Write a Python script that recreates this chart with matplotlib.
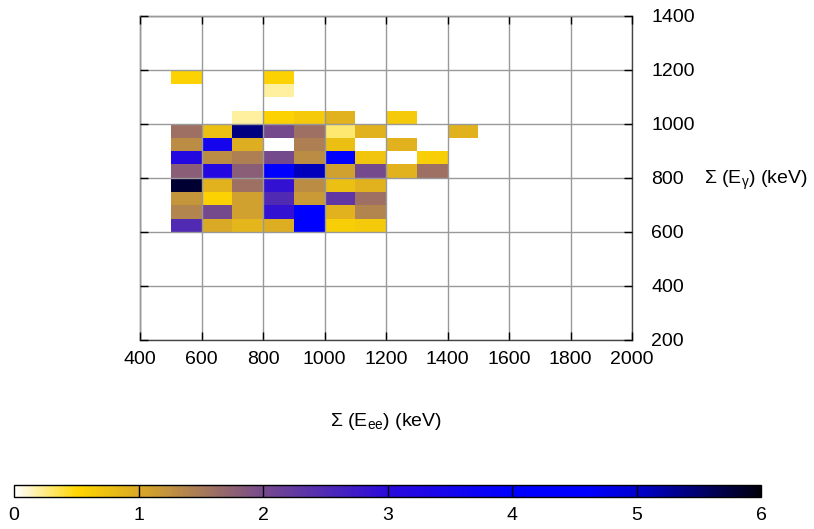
"""Heatmap of sum(E_ee) vs sum(E_gamma) counts, with horizontal colour bar."""
import matplotlib
matplotlib.use("Agg")
import matplotlib.pyplot as plt
import numpy as np
from matplotlib.colors import LinearSegmentedColormap, Normalize
from matplotlib.colorbar import ColorbarBase

plt.rcParams["font.family"] = ["Liberation Sans", "DejaVu Sans"]
plt.rcParams["mathtext.fontset"] = "custom"
plt.rcParams["mathtext.rm"] = "Liberation Sans"
plt.rcParams["mathtext.it"] = "Liberation Sans:italic"

# bin edges (keV)
x_edges = np.arange(500, 1600, 100)      # 500 .. 1500, 10 columns
y_edges = np.arange(600, 1250, 50)       # 600 .. 1200, 12 rows

# counts per cell, rows from y=600 (bottom) to y=1200 (top),
# columns from x=500 to x=1500
counts = [
    [2.5, 1.0, 0.85, 0.95, 4.3, 0.6, 0.65, 0.0, 0.0, 0.0],   # 600-650
    [1.4, 2.0, 1.1, 2.9, 4.3, 0.9, 1.4, 0.0, 0.0, 0.0],      # 650-700
    [1.2, 0.55, 1.1, 2.5, 1.15, 2.3, 1.6, 0.0, 0.0, 0.0],    # 700-750
    [5.8, 0.9, 1.6, 2.9, 1.3, 0.75, 0.9, 0.0, 0.0, 0.0],     # 750-800
    [1.8, 3.2, 1.8, 4.3, 5.1, 1.1, 2.0, 0.9, 1.6, 0.0],      # 800-850
    [3.2, 1.3, 1.45, 2.0, 1.3, 4.2, 0.7, 0.0, 0.6, 0.0],     # 850-900
    [1.3, 3.5, 0.95, 0.0, 1.45, 0.75, 0.0, 0.9, 0.0, 0.0],   # 900-950
    [1.6, 0.75, 5.4, 2.0, 1.6, 0.3, 0.9, 0.0, 0.0, 0.9],     # 950-1000
    [0.0, 0.0, 0.2, 0.55, 0.65, 0.9, 0.0, 0.65, 0.0, 0.0],   # 1000-1050
    [0.0, 0.0, 0.0, 0.0, 0.0, 0.0, 0.0, 0.0, 0.0, 0.0],      # 1050-1100
    [0.0, 0.0, 0.0, 0.2, 0.0, 0.0, 0.0, 0.0, 0.0, 0.0],      # 1100-1150
    [0.55, 0.0, 0.0, 0.55, 0.0, 0.0, 0.0, 0.0, 0.0, 0.0],    # 1150-1200
]

x_ticks = [400, 600, 800, 1000, 1200, 1400, 1600, 1800, 2000]
y_ticks = [200, 400, 600, 800, 1000, 1200, 1400]
cb_ticks = [0, 1, 2, 3, 4, 5, 6]

# palette nodes (value, colour)
palette = [
    (0.0, (1.0, 1.0, 1.0)),
    (0.5, (1.0, 0.84, 0.0)),
    (1.0, (0.85, 0.66, 0.15)),
    (2.0, (0.46, 0.29, 0.55)),
    (3.0, (0.17, 0.04, 0.86)),
    (4.0, (0.0, 0.0, 1.0)),
    (4.6, (0.0, 0.0, 1.0)),
    (5.0, (0.0, 0.0, 0.82)),
    (6.0, (0.0, 0.0, 0.05)),
]
cmap = LinearSegmentedColormap.from_list(
    "gp", [(v / 6.0, c) for v, c in palette])
norm = Normalize(0, 6)

fig = plt.figure(figsize=(8.14, 5.29), dpi=100)
ax = fig.add_axes([140 / 814, 1 - 340 / 529, 492 / 814, 324 / 529])

data = np.ma.masked_equal(np.array(counts), 0.0)
ax.pcolormesh(x_edges, y_edges, data, cmap=cmap, norm=norm, zorder=1)

ax.set_xlim(400, 2000)
ax.set_ylim(200, 1400)
ax.set_xticks(x_ticks)
ax.set_yticks(y_ticks)
ax.tick_params(axis="both", direction="in", length=6, width=1,
               labelsize=14, colors="black",
               top=True, bottom=True, left=True, right=True,
               labelleft=False, labelright=True)
ax.tick_params(axis="x", pad=8)
ax.tick_params(axis="y", pad=14)
ax.grid(True, color="#999999", linewidth=1, zorder=3)
ax.set_axisbelow(False)
for s in ax.spines.values():
    s.set_color("#444444")
    s.set_linewidth(1)

fig.text(386 / 814, 1 - 421 / 529, r"Σ (E$_{\mathrm{ee}}$) (keV)",
         ha="center", va="center", fontsize=14)
fig.text(704 / 814, 1 - 180 / 529, r"Σ (E$_{\mathrm{γ}}$) (keV)",
         ha="left", va="center", fontsize=14)

cax = fig.add_axes([14 / 814, 1 - 497 / 529, 747 / 814, 12 / 529])
cb = ColorbarBase(cax, cmap=cmap, norm=norm, orientation="horizontal")
cb.set_ticks(cb_ticks)
cb.outline.set_linewidth(1)
cax.tick_params(axis="x", length=0, labelsize=14, pad=7)
for v in cb_ticks[1:-1]:
    cax.axvline(v, color="black", linewidth=1)

fig.savefig("out.png", dpi=100)
